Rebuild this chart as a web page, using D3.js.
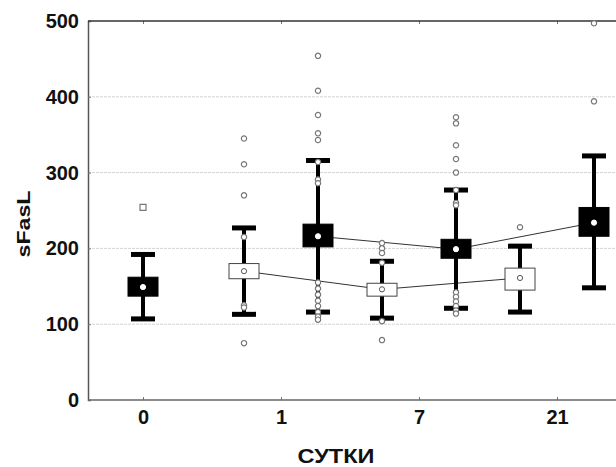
<!DOCTYPE html>
<html>
<head>
<meta charset="utf-8">
<script src="https://cdn.jsdelivr.net/npm/d3@7"></script>
<style>
  body { margin: 0; background: #fff; }
  text { font-family: "Liberation Sans", Arial, sans-serif; font-weight: bold; fill: #111; }
</style>
</head>
<body>
<svg width="616" height="467"></svg>
<script>
// categories
const days = ["0", "1", "7", "21"];
const yTicks = [0, 100, 200, 300, 400, 500];

// black series (all days)
const blackDays = ["0", "1", "7", "21"];
const blackMedian = [149, 216, 199, 234];
const blackQ1 = [137, 202, 187, 216];
const blackQ3 = [162, 232, 212, 254];
const blackLow = [107, 116, 121, 148];
const blackHigh = [192, 316, 277, 322];
const blackOutliers = [
  [254],
  [454, 408, 376, 352, 343, 314, 291, 286, 155, 147, 139, 131, 124, 116, 110, 106],
  [373, 365, 336, 318, 300, 277, 260, 257, 142, 136, 130, 124, 118, 114],
  [497, 394]
];

// white series (days 1, 7, 21)
const whiteDays = ["1", "7", "21"];
const whiteMedian = [170, 146, 161];
const whiteQ1 = [160, 137, 145];
const whiteQ3 = [180, 154, 174];
const whiteLow = [113, 108, 116];
const whiteHigh = [227, 183, 203];
const whiteOutliers = [
  [345, 311, 270, 215, 125, 122, 75],
  [207, 200, 194, 181, 104, 79],
  [228]
];

const svg = d3.select("svg");
const plotLeft = 88, plotTop = 21, plotBottom = 400, plotRight = 640;

const x = d3.scalePoint().domain(days).range([143, 557]);
const shift = d3.scalePoint().domain(["white", "black"]).range([-37, 37]);
const y = d3.scaleLinear().domain([0, 500]).range([plotBottom, plotTop]);

// grid
svg.append("g")
  .selectAll("line")
  .data(yTicks.filter(d => d > 0 && d < 500))
  .join("line")
  .attr("x1", plotLeft).attr("x2", plotRight)
  .attr("y1", d => y(d)).attr("y2", d => y(d))
  .attr("stroke", "#d4d4d4")
  .attr("stroke-dasharray", "3,1");

// axes
const yAxis = svg.append("g")
  .attr("transform", `translate(${plotLeft},0)`)
  .call(d3.axisLeft(y).tickValues(yTicks).tickSize(-3).tickPadding(9));
yAxis.select(".domain").attr("stroke", "#555").attr("stroke-width", 1.5);
yAxis.selectAll(".tick line").attr("stroke", "#777");
yAxis.selectAll(".tick text").style("font-size", "20px").style("font-family", "Liberation Sans, Arial, sans-serif").style("font-weight", "bold").attr("fill", "#111");

const xAxis = svg.append("g")
  .attr("transform", `translate(0,${plotBottom})`)
  .call(d3.axisBottom(x).tickSize(-3).tickPadding(10));
xAxis.select(".domain").remove();
xAxis.selectAll(".tick line").attr("stroke", "#777");
xAxis.selectAll(".tick text").style("font-size", "20px").style("font-family", "Liberation Sans, Arial, sans-serif").style("font-weight", "bold").attr("fill", "#111");
svg.append("line")
  .attr("x1", plotLeft).attr("x2", plotRight)
  .attr("y1", plotBottom).attr("y2", plotBottom)
  .attr("stroke", "#666").attr("stroke-width", 1.5);

const xTop = svg.append("g")
  .attr("transform", `translate(0,${plotTop})`)
  .call(d3.axisTop(x).tickSize(-3).tickFormat(""));
xTop.select(".domain").remove();
xTop.selectAll(".tick line").attr("stroke", "#777");
svg.append("line")
  .attr("x1", plotLeft).attr("x2", plotRight)
  .attr("y1", plotTop).attr("y2", plotTop)
  .attr("stroke", "#333").attr("stroke-width", 1.5);

// titles
svg.append("text")
  .attr("x", 336).attr("y", 463)
  .attr("text-anchor", "middle")
  .attr("textLength", 77).attr("lengthAdjust", "spacingAndGlyphs")
  .style("font-size", "21px")
  .text("СУТКИ");
svg.append("text")
  .attr("transform", "translate(30,224) rotate(-90)")
  .attr("text-anchor", "middle")
  .attr("textLength", 67).attr("lengthAdjust", "spacingAndGlyphs")
  .style("font-size", "19px")
  .text("sFasL");

// build box records
const blackBoxes = blackDays.map((d, i) => ({
  day: d, cx: x(d) + (d === "0" ? 0 : shift("black")),
  med: blackMedian[i], q1: blackQ1[i], q3: blackQ3[i],
  lo: blackLow[i], hi: blackHigh[i], out: blackOutliers[i], dark: true
}));
const whiteBoxes = whiteDays.map((d, i) => ({
  day: d, cx: x(d) + shift("white"),
  med: whiteMedian[i], q1: whiteQ1[i], q3: whiteQ3[i],
  lo: whiteLow[i], hi: whiteHigh[i], out: whiteOutliers[i], dark: false
}));

// median lines
const line = d3.line().x(d => d.cx).y(d => y(d.med));
svg.append("path")
  .datum(blackBoxes.filter(b => b.day !== "0"))
  .attr("d", line).attr("fill", "none").attr("stroke", "#333").attr("stroke-width", 1);
svg.append("path")
  .datum(whiteBoxes)
  .attr("d", line).attr("fill", "none").attr("stroke", "#333").attr("stroke-width", 1);

const drawBoxes = (data) => {
  const g = svg.append("g").selectAll("g").data(data).join("g");
  g.append("line")
    .attr("x1", d => d.cx).attr("x2", d => d.cx)
    .attr("y1", d => y(d.hi)).attr("y2", d => y(d.lo))
    .attr("stroke", "#000").attr("stroke-width", 4);
  g.selectAll(".cap").data(d => [[d.cx, d.hi], [d.cx, d.lo]]).join("line")
    .attr("x1", d => d[0] - 12).attr("x2", d => d[0] + 12)
    .attr("y1", d => y(d[1])).attr("y2", d => y(d[1]))
    .attr("stroke", "#000").attr("stroke-width", 5);
  g.append("rect")
    .attr("x", d => d.cx - 15).attr("width", 30)
    .attr("y", d => y(d.q3)).attr("height", d => y(d.q1) - y(d.q3))
    .attr("fill", d => d.dark ? "#000" : "#fff")
    .attr("stroke", d => d.dark ? "#000" : "#444")
    .attr("stroke-width", 1);
  // outliers
  g.selectAll(".out").data(d => d.out.map(v => ({ cx: d.cx, v, sq: d.day === "0" }))).join("path")
    .attr("transform", o => `translate(${o.cx},${y(o.v)})`)
    .attr("d", o => o.sq ? "M-3,-3h6v6h-6z" : d3.symbol(d3.symbolCircle, 22)())
    .attr("fill", "#fff").attr("stroke", "#777").attr("stroke-width", 1.2);
  // median marker
  g.append("circle")
    .attr("cx", d => d.cx).attr("cy", d => y(d.med)).attr("r", 2.6)
    .attr("fill", "#fff").attr("stroke", d => d.dark ? "#fff" : "#555").attr("stroke-width", 1);
};
drawBoxes(whiteBoxes);
drawBoxes(blackBoxes);
</script>
</body>
</html>
